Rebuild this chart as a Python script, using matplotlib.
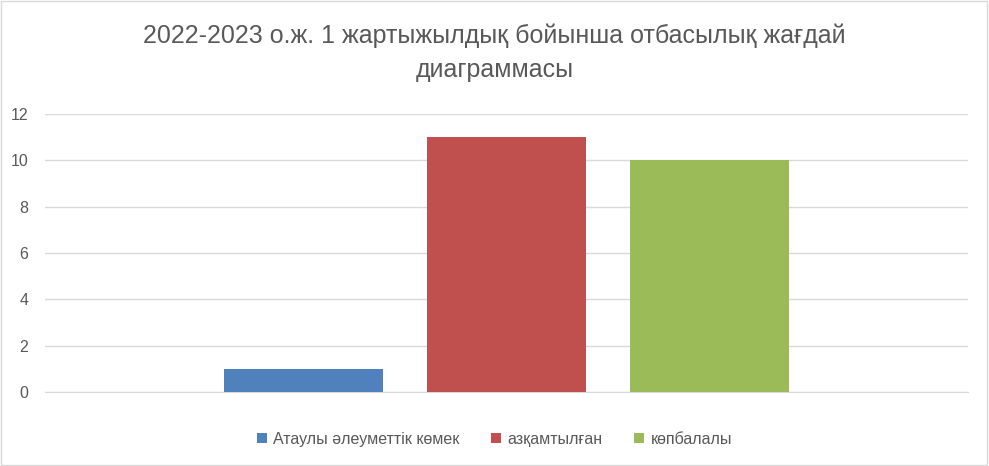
import matplotlib
matplotlib.use("Agg")
import matplotlib.pyplot as plt
from matplotlib.patches import Rectangle

title = "2022-2023 о.ж. 1 жартыжылдық бойынша отбасылық жағдай\nдиаграммасы"
series = ["Атаулы әлеуметтік көмек", "азқамтылған", "көпбалалы"]
values = [1, 11, 10]
colors = ["#4F81BD", "#C0504D", "#9BBB59"]
yticks = [0, 2, 4, 6, 8, 10, 12]

plt.rcParams['font.family'] = ['Liberation Sans', 'DejaVu Sans']
fig = plt.figure(figsize=(9.89, 4.66), dpi=100)
fig.patches.append(Rectangle((0.001, 0.002), 0.997, 0.995, transform=fig.transFigure,
                             fill=False, edgecolor="#D9D9D9", linewidth=1))
ax = fig.add_axes([0.0455, 0.1588, 0.9333, 0.5967])
offsets = [-1, 0, 1]
for o, s, v, c in zip(offsets, series, values, colors):
    ax.bar(o, v, width=0.783, color=c, label=s, zorder=3)
ax.set_xlim(-2.273, 2.273)
ax.set_ylim(0, 12)
ax.set_yticks(yticks)
ax.set_xticks([])
ax.grid(axis='y', color="#D9D9D9", linewidth=1, zorder=0)
for sp in ["top", "right", "left"]:
    ax.spines[sp].set_visible(False)
ax.spines["bottom"].set_color("#D9D9D9")
ax.tick_params(axis='y', length=0, labelsize=11.5, labelcolor="#595959", pad=12)
fig.suptitle(title, y=0.95, fontsize=18, color="#595959", linespacing=1.55)
fig.legend(loc="lower center", bbox_to_anchor=(0.5, 0.01), ncol=3, frameon=False,
           fontsize=11.5, labelcolor="#595959", handlelength=0.6, handleheight=0.6,
           columnspacing=2.0, handletextpad=0.4)
fig.savefig("out.png", dpi=100)
